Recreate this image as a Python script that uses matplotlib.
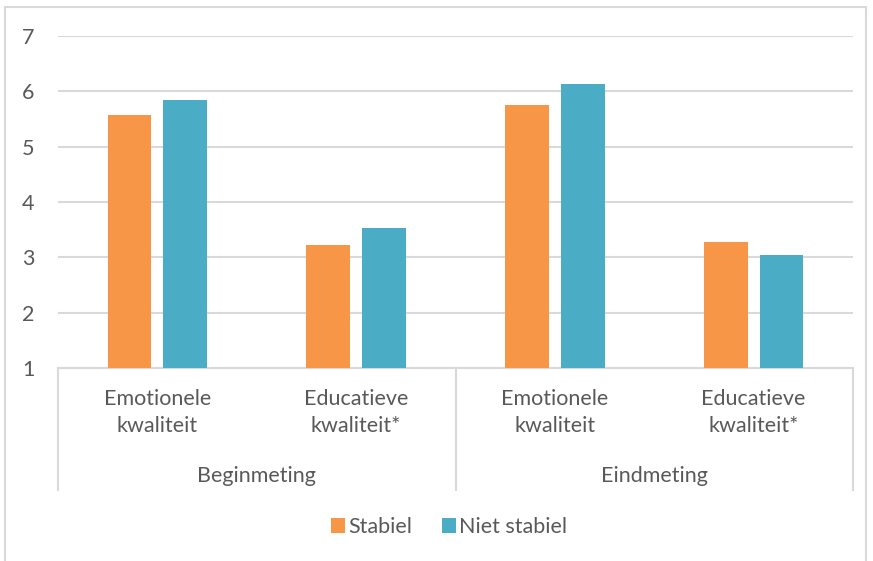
import matplotlib
matplotlib.use("Agg")
import matplotlib.pyplot as plt
from matplotlib.patches import Rectangle
from matplotlib.lines import Line2D
import numpy as np

# data
categories = ["Emotionele\nkwaliteit", "Educatieve\nkwaliteit*",
              "Emotionele\nkwaliteit", "Educatieve\nkwaliteit*"]
groups = ["Beginmeting", "Eindmeting"]
stabiel = [5.58, 3.22, 5.75, 3.27]
niet_stabiel = [5.84, 3.53, 6.14, 3.04]
series_names = ["Stabiel", "Niet stabiel"]

ORANGE = "#F79646"
TEAL = "#4BACC6"
GRID = "#D9D9D9"
TEXT = "#595959"
FS = 15.5

plt.rcParams['font.family'] = ['Lato', 'DejaVu Sans']

W, H = 873, 561
fig = plt.figure(figsize=(W / 100, H / 100), dpi=100)
ax = fig.add_axes([58 / W, 1 - 368 / H, (853 - 58) / W, (368 - 36) / H])

x = np.arange(len(categories))
bw = 0.22
off = 0.14
base = 1
ax.bar(x - off, np.array(stabiel) - base, bw, bottom=base, color=ORANGE,
       label=series_names[0], zorder=3)
ax.bar(x + off, np.array(niet_stabiel) - base, bw, bottom=base, color=TEAL,
       label=series_names[1], zorder=3)

ax.set_xlim(-0.5, len(categories) - 0.5)
ax.set_ylim(1, 7)
ax.set_yticks(range(1, 8))
ax.yaxis.grid(True, color=GRID, linewidth=1.5, zorder=0)
ax.set_axisbelow(True)
for s in ["left", "right", "top"]:
    ax.spines[s].set_visible(False)
ax.spines["bottom"].set_color(GRID)
ax.spines["bottom"].set_linewidth(1.5)

ax.set_xticks(x)
ax.set_xticklabels(categories, fontsize=FS, color=TEXT, linespacing=1.45)
ax.tick_params(axis="x", length=0, pad=15)
ax.tick_params(axis="y", length=0, pad=17, labelsize=FS, labelcolor=TEXT)

# group labels and separators below the axis
xt = ax.get_xaxis_transform()
for i, g in enumerate(groups):
    ax.text(2 * i + 0.5, -0.325, g, transform=xt, ha="center", va="center",
            fontsize=FS, color=TEXT)
for xs in [-0.5, 1.5, 3.5]:
    ax.add_line(Line2D([xs, xs], [0, -0.367], transform=xt, color=GRID,
                       linewidth=1.5, clip_on=False))

fig.legend(loc="center", bbox_to_anchor=(449 / W, 1 - 527 / H), ncol=2,
           frameon=False, fontsize=FS, labelcolor=TEXT, handlelength=0.65,
           handleheight=0.65, handletextpad=0.15, columnspacing=1.4)

# outer chart border
fig.add_artist(Rectangle((5 / W, -0.1), 861 / W, 1.1 - 7 / H,
                         transform=fig.transFigure, fill=False,
                         edgecolor=GRID, linewidth=1.5))

fig.savefig("out.png", dpi=100)
